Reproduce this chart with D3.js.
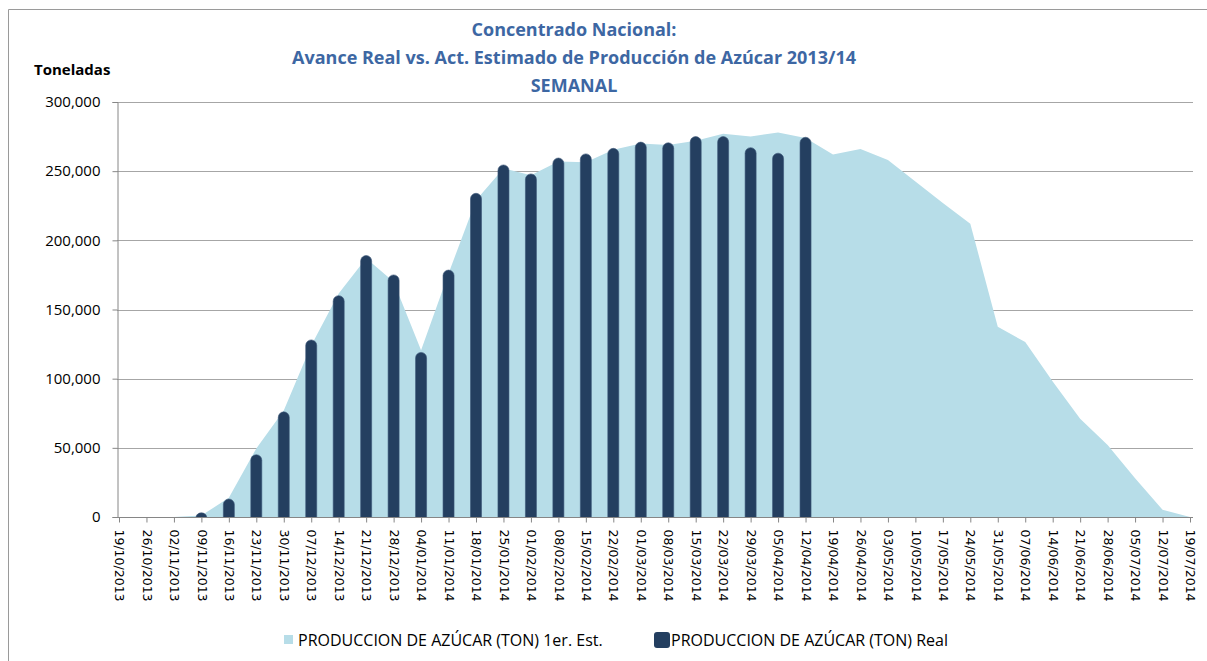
<!DOCTYPE html>
<html>
<head>
<meta charset="utf-8">
<script src="https://cdnjs.cloudflare.com/ajax/libs/d3/7.8.5/d3.min.js"></script>
<style>
  body { margin: 0; background: #fff; }
  svg { display: block; }
</style>
</head>
<body>
<div id="chart"></div>
<script>
// Chart size
const width = 1207;
const height = 661;
const margin = { top: 102, right: 14, bottom: 144, left: 119 };

// Weekly categories
const fechas = [
  "19/10/2013", "26/10/2013", "02/11/2013", "09/11/2013", "16/11/2013", "23/11/2013",
  "30/11/2013", "07/12/2013", "14/12/2013", "21/12/2013", "28/12/2013", "04/01/2014",
  "11/01/2014", "18/01/2014", "25/01/2014", "01/02/2014", "08/02/2014", "15/02/2014",
  "22/02/2014", "01/03/2014", "08/03/2014", "15/03/2014", "22/03/2014", "29/03/2014",
  "05/04/2014", "12/04/2014", "19/04/2014", "26/04/2014", "03/05/2014", "10/05/2014",
  "17/05/2014", "24/05/2014", "31/05/2014", "07/06/2014", "14/06/2014", "21/06/2014",
  "28/06/2014", "05/07/2014", "12/07/2014", "19/07/2014"
];

// PRODUCCION DE AZUCAR (TON) 1er. Est.
const estimado = [
  0, 0, 0, 1000, 14000, 49500,
  77000, 124000, 161500, 187000, 170000, 120500,
  176000, 229000, 252000, 247000, 257000, 256500,
  265500, 270000, 269000, 272000, 277000, 275000,
  278000, 274000, 262000, 266000, 258000, 242500,
  227000, 212000, 137500, 126500, 98000, 71000,
  52000, 28000, 5300, 0
];

// PRODUCCION DE AZUCAR (TON) Real
const real = [
  null, null, null, 3000, 13000, 45000,
  76000, 128000, 160000, 189000, 175000, 119000,
  178500, 234000, 254500, 248000, 259500, 262500,
  266500, 271000, 270500, 275000, 275000, 267000,
  263000, 274500, null, null, null, null,
  null, null, null, null, null, null,
  null, null, null, null
];

const yTicks = [0, 50000, 100000, 150000, 200000, 250000, 300000];

const titulo = [
  "Concentrado Nacional:",
  "Avance Real vs. Act. Estimado de Producción de Azúcar 2013/14",
  "SEMANAL"
];
const nombreEst = "PRODUCCION DE AZÚCAR (TON) 1er. Est.";
const nombreReal = "PRODUCCION DE AZÚCAR (TON) Real";

const colorArea = "#b7dde8";
const colorBar = "#243f60";
const colorTitle = "#3d67a3";
const uiFont = "'Open Sans', Lato, sans-serif";

const svg = d3.select("#chart").append("svg")
  .attr("width", width)
  .attr("height", height);

// outer chart border (left and top visible)
svg.append("path")
  .attr("d", `M8.5,${height} L8.5,9.5 L${width},9.5`)
  .attr("fill", "none")
  .attr("stroke", "#9a9a9a")
  .attr("stroke-width", 1);

const x = d3.scalePoint()
  .domain(fechas)
  .range([margin.left, 1190]);

const y = d3.scaleLinear()
  .domain([0, 300000])
  .range([517, margin.top]);

// gridlines
svg.append("g")
  .selectAll("line")
  .data(yTicks.filter(d => d > 0))
  .enter().append("line")
  .attr("x1", 117)
  .attr("x2", 1193)
  .attr("y1", d => Math.round(y(d)) + 0.5)
  .attr("y2", d => Math.round(y(d)) + 0.5)
  .attr("stroke", "#a6a6a6")
  .attr("stroke-width", 1);

// area: estimated
const area = d3.area()
  .x((d, i) => x(fechas[i]))
  .y0(y(0))
  .y1(d => y(d));

svg.append("path")
  .datum(estimado)
  .attr("fill", colorArea)
  .attr("d", area);

// bars: real
svg.append("clipPath")
  .attr("id", "clip-bars")
  .append("rect")
  .attr("x", 0)
  .attr("y", 0)
  .attr("width", width)
  .attr("height", y(0));

const barW = 11;
svg.append("g")
  .attr("clip-path", "url(#clip-bars)")
  .selectAll("rect")
  .data(real.map((v, i) => ({ fecha: fechas[i], v: v })).filter(d => d.v !== null))
  .enter().append("rect")
  .attr("x", d => x(d.fecha) - barW / 2)
  .attr("y", d => y(d.v))
  .attr("width", barW)
  .attr("height", d => y(0) - y(d.v) + 6)
  .attr("rx", 5.5)
  .attr("fill", colorBar)
  .attr("stroke", "#3a5577")
  .attr("stroke-width", 0.6);

// y axis
const yAxis = svg.append("g")
  .attr("transform", "translate(117.5,0)")
  .call(d3.axisLeft(y).tickValues(yTicks).tickSize(5).tickPadding(12)
    .tickFormat(d => d3.format(",")(d)));
yAxis.select(".domain").attr("stroke", "#868686");
yAxis.selectAll(".tick line").attr("stroke", "#868686");
yAxis.selectAll("text")
  .attr("fill", "#000")
  .style("font-family", uiFont)
  .style("font-size", "15px");

// x axis
const xAxis = svg.append("g")
  .attr("transform", `translate(0,${Math.round(y(0)) + 0.5})`)
  .call(d3.axisBottom(x).tickSize(5).tickSizeOuter(0));
xAxis.select(".domain")
  .attr("d", `M117,0H1193`)
  .attr("stroke", "#868686");
xAxis.selectAll(".tick line").attr("stroke", "#868686");
xAxis.selectAll("text")
  .attr("fill", "#000")
  .attr("transform", "rotate(90)")
  .attr("x", 12)
  .attr("y", 0)
  .attr("dy", "0.35em")
  .style("text-anchor", "start")
  .style("font-family", "'DejaVu Sans', sans-serif")
  .style("font-size", "12.5px");

// title
svg.append("g")
  .selectAll("text")
  .data(titulo)
  .enter().append("text")
  .attr("x", 574)
  .attr("y", (d, i) => 36 + i * 28)
  .attr("text-anchor", "middle")
  .attr("fill", colorTitle)
  .style("font-family", uiFont)
  .style("font-weight", "bold")
  .style("font-size", "18px")
  .text(d => d);

// y axis title
svg.append("text")
  .attr("x", 34)
  .attr("y", 75)
  .attr("fill", "#000")
  .style("font-family", uiFont)
  .style("font-weight", "bold")
  .style("font-size", "15px")
  .text("Toneladas");

// legend
const legend = svg.append("g").attr("transform", "translate(0,640)");
legend.append("rect")
  .attr("x", 284).attr("y", -5)
  .attr("width", 9).attr("height", 9)
  .attr("fill", colorArea);
legend.append("text")
  .attr("x", 298).attr("y", 0)
  .attr("dy", "0.35em")
  .style("font-family", uiFont)
  .style("font-size", "16px")
  .text(nombreEst);
legend.append("rect")
  .attr("x", 654).attr("y", -8)
  .attr("width", 16).attr("height", 16)
  .attr("rx", 3)
  .attr("fill", colorBar);
legend.append("text")
  .attr("x", 671).attr("y", 0)
  .attr("dy", "0.35em")
  .style("font-family", uiFont)
  .style("font-size", "16px")
  .text(nombreReal);
</script>
</body>
</html>
